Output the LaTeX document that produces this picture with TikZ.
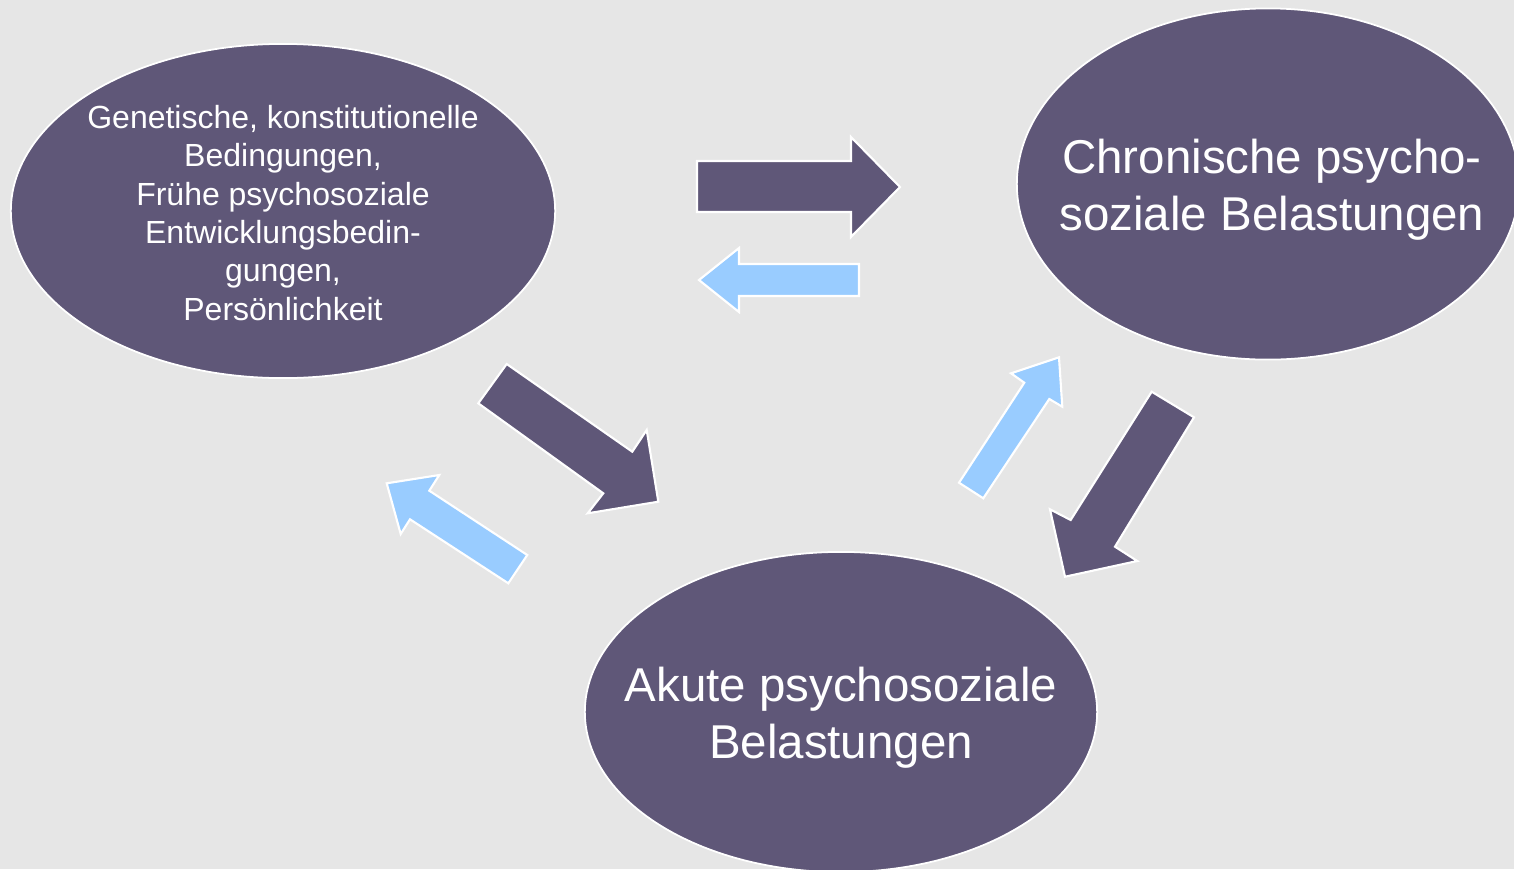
\documentclass[tikz,border=0pt]{standalone}
\usepackage{fontspec}
\setmainfont{Liberation Sans}
\usetikzlibrary{shapes.geometric}
\definecolor{plum}{HTML}{5F5778}
\definecolor{sky}{HTML}{99CCFF}
\definecolor{paper}{HTML}{E6E6E6}
\tikzset{%
    blob/.style={ellipse, fill=plum, draw=white, line width=0.5pt, inner sep=0pt},
    words/.style={text=white, inner sep=0pt, align=center},
    bigtext/.style={font=\fontsize{13.5}{16.3}\selectfont},
    smalltext/.style={font=\fontsize{9.1}{10.9}\selectfont},
    darkarrow/.style={fill=plum, draw=white, line width=0.6pt},
    lightarrow/.style={fill=sky, draw=white, line width=0.6pt}
}

\begin{document}
\begin{tikzpicture}[x=0.01cm,y=-0.01cm]
    \fill[paper] (0,0) rectangle (1514,869);
    \useasboundingbox (0,0) rectangle (1514,869);

    \node[blob, minimum width=5.44cm, minimum height=3.34cm] (anlage) at (283,211) {};
    \node[blob, minimum width=5.02cm, minimum height=3.51cm] (chronisch) at (1268,184) {};
    \node[blob, minimum width=5.12cm, minimum height=3.20cm] (akut) at (841,712) {};

    \node[words, smalltext] (anlagetext) at ([yshift=-0.02cm]anlage)
        {Genetische, konstitutionelle\\ Bedingungen,\\ Frühe psychosoziale\\ Entwicklungsbedin-\\ gungen,\\ Persönlichkeit};
    \node[words, bigtext] (chronischtext) at ([xshift=0.04cm,yshift=-0.06cm]chronisch)
        {Chronische psycho-\\ soziale Belastungen};
    \node[words, bigtext] (akuttext) at ([yshift=-0.06cm]akut)
        {Akute psychosoziale\\ Belastungen};

    % top pair
    \filldraw[darkarrow] (697,161) -- (851,161) -- (851,137) -- (900,187)
        -- (851,237) -- (851,212) -- (697,212) -- cycle;
    \filldraw[lightarrow] (699,280) -- (739,248) -- (739,264) -- (859,264)
        -- (859,296) -- (739,296) -- (739,312) -- cycle;

    % left pair
    \filldraw[darkarrow] (506.7,364) -- (632.3,451.7) -- (646.7,430) -- (658.3,501.7)
        -- (587.7,513.3) -- (603.3,493.3) -- (478.3,403.3) -- cycle;
    \filldraw[lightarrow] (386.7,483.3) -- (439.3,475) -- (429.3,490.7) -- (527.3,555)
        -- (508.3,583.3) -- (410,519.3) -- (400.7,534) -- cycle;

    % right pair
    \filldraw[lightarrow] (1059,357.3) -- (1062.3,406.7) -- (1049.3,399) -- (983.3,498.3)
        -- (959,482.7) -- (1024.3,382.7) -- (1011,373.3) -- cycle;
    \filldraw[darkarrow] (1151.7,391.7) -- (1194,417.3) -- (1115,546.7) -- (1137.3,561)
        -- (1065,576.7) -- (1050,509.3) -- (1070.7,520) -- cycle;
\end{tikzpicture}
\end{document}
